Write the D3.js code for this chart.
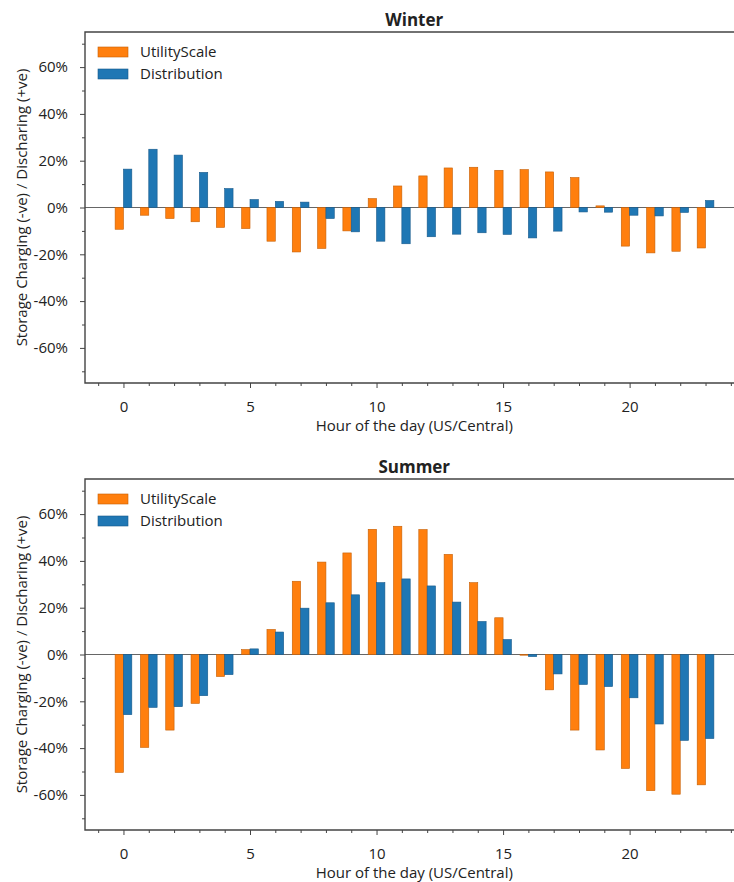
<!DOCTYPE html>
<html>
<head>
<meta charset="utf-8">
<script src="https://cdn.jsdelivr.net/npm/d3@7"></script>
<style>
  html, body { margin: 0; padding: 0; background: #fff; }
  svg { display: block; }
  text { font-family: "Open Sans", "Noto Sans", sans-serif; fill: #222; }
</style>
</head>
<body>
<div id="chart"></div>
<script>
// ---- data ----
const hours = d3.range(0, 24);
const seriesNames = ["UtilityScale", "Distribution"];
const panelTitles = ["Winter", "Summer"];

const winterUtility = [-9.3, -3.3, -4.7, -6.1, -8.5, -9.0, -14.4, -19.0, -17.5, -10.0,
  3.8, 9.2, 13.5, 16.9, 17.2, 15.9, 16.2, 15.2, 12.8, 0.7, -16.5, -19.4, -18.7, -17.3];
const winterDistribution = [16.4, 24.9, 22.4, 15.0, 8.1, 3.4, 2.6, 2.3, -4.7, -10.4,
  -14.4, -15.5, -12.5, -11.4, -10.8, -11.5, -13.0, -10.1, -1.9, -2.0, -3.3, -3.6, -2.1, 3.0];
const summerUtility = [-50.4, -39.7, -32.3, -20.9, -9.4, 2.1, 10.7, 31.3, 39.5, 43.4,
  53.5, 54.8, 53.4, 42.8, 30.7, 15.7, -0.3, -15.1, -32.3, -40.8, -48.7, -58.2, -59.7, -55.7];
const summerDistribution = [-25.7, -22.6, -22.3, -17.6, -8.6, 2.4, 9.6, 19.8, 22.1, 25.5,
  30.7, 32.3, 29.3, 22.4, 14.1, 6.4, -0.9, -8.3, -12.8, -13.7, -18.5, -29.7, -36.7, -35.9];

const xMajorTicks = [0, 5, 10, 15, 20];
const yMajorTicks = [-60, -40, -20, 0, 20, 40, 60];
const yLabel = "Storage Charging (-ve) / Discharing (+ve)";
const xLabel = "Hour of the day (US/Central)";

// ---- layout ----
const W = 734, H = 882;
const colors = ["#ff7f0e", "#1f77b4"];
const edges = ["#c55f05", "#17598a"];
const panels = [
  { title: panelTitles[0], data: [winterUtility, winterDistribution], top: 32, bottom: 383 },
  { title: panelTitles[1], data: [summerUtility, summerDistribution], top: 479, bottom: 830 }
];

const svg = d3.select("#chart").append("svg").attr("width", W).attr("height", H);

const x = d3.scaleLinear().domain([-1.52, 24.5]).range([85, 743.5]);
const bw = 0.33;

panels.forEach(p => {
  const y = d3.scaleLinear().domain([-75, 75]).range([p.bottom, p.top]);
  const g = svg.append("g");

  // title
  g.append("text").attr("x", (x.range()[0] + x.range()[1]) / 2).attr("y", p.top - 6)
    .attr("text-anchor", "middle").style("font-weight", "bold").style("font-size", "17px")
    .text(p.title);

  // zero line
  g.append("line").attr("x1", x.range()[0]).attr("x2", x.range()[1])
    .attr("y1", y(0)).attr("y2", y(0)).attr("stroke", "#666").attr("stroke-width", 1);

  // bars
  p.data.forEach((vals, si) => {
    g.append("g").selectAll("rect").data(hours).join("rect")
      .attr("x", h => x(si === 0 ? h - bw : h))
      .attr("width", x(bw) - x(0))
      .attr("y", h => y(Math.max(0, vals[h])))
      .attr("height", h => Math.abs(y(vals[h]) - y(0)))
      .attr("fill", colors[si])
      .attr("stroke", edges[si]).attr("stroke-width", 0.6);
  });

  // frame: top, left, bottom
  const fr = g.append("g").attr("stroke", "#444").attr("stroke-width", 1.4).attr("fill", "none");
  fr.append("path").attr("d", `M${x.range()[1]},${p.top}H${x.range()[0]}V${p.bottom}H${x.range()[1]}`);

  // y axis
  const yAxis = d3.axisLeft(y).tickValues(yMajorTicks).tickFormat(d => d + "%").tickSize(5).tickPadding(12);
  const ya = g.append("g").attr("transform", `translate(${x.range()[0]},0)`).call(yAxis);
  ya.select(".domain").remove();
  ya.selectAll("line").attr("stroke", "#444");
  ya.selectAll("text").style("font-size", "15px").style("fill", "#222");
  const yMinor = d3.axisLeft(y).tickValues(d3.range(-70, 71, 10).filter(v => v % 20 !== 0)).tickSize(3).tickFormat("");
  const ym = g.append("g").attr("transform", `translate(${x.range()[0]},0)`).call(yMinor);
  ym.select(".domain").remove();
  ym.selectAll("line").attr("stroke", "#444");

  // x axis
  const xAxis = d3.axisBottom(x).tickValues(xMajorTicks).tickFormat(d3.format("d")).tickSize(5).tickPadding(13);
  const xa = g.append("g").attr("transform", `translate(0,${p.bottom})`).call(xAxis);
  xa.select(".domain").remove();
  xa.selectAll("line").attr("stroke", "#444");
  xa.selectAll("text").style("font-size", "15px").style("fill", "#222");
  const xMinor = d3.axisBottom(x).tickValues(d3.range(-1, 25).filter(v => v % 5 !== 0)).tickSize(3).tickFormat("");
  const xm = g.append("g").attr("transform", `translate(0,${p.bottom})`).call(xMinor);
  xm.select(".domain").remove();
  xm.selectAll("line").attr("stroke", "#444");

  // axis labels
  g.append("text").attr("x", (x.range()[0] + x.range()[1]) / 2).attr("y", p.bottom + 48)
    .attr("text-anchor", "middle").style("font-size", "15px").text(xLabel);
  g.append("text")
    .attr("transform", `translate(27,${(p.top + p.bottom) / 2}) rotate(-90)`)
    .attr("text-anchor", "middle").style("font-size", "15px").text(yLabel);

  // legend
  const lg = g.append("g").attr("transform", `translate(98,${p.top + 15})`);
  seriesNames.forEach((name, i) => {
    lg.append("rect").attr("x", 0).attr("y", i * 22).attr("width", 30).attr("height", 10)
      .attr("fill", colors[i]).attr("stroke", edges[i]).attr("stroke-width", 0.6);
    lg.append("text").attr("x", 42).attr("y", i * 22 + 5).attr("dy", "0.35em")
      .style("font-size", "15px").text(name);
  });
});
</script>
</body>
</html>
